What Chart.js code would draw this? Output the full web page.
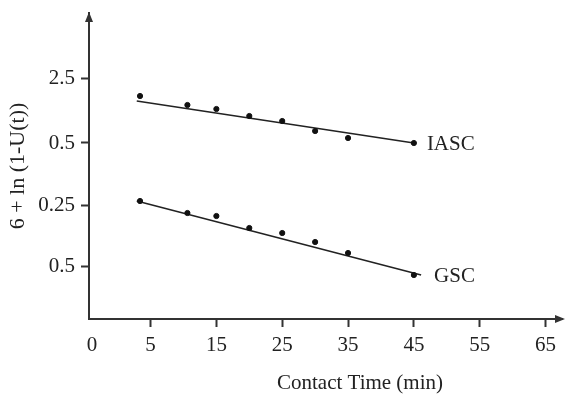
<!DOCTYPE html>
<html>
<head>
<meta charset="utf-8">
<script src="https://cdn.jsdelivr.net/npm/chart.js@4"></script>
<style>
  html, body { margin: 0; padding: 0; background: #fff; }
  #wrap { width: 566px; height: 398px; }
</style>
</head>
<body>
<div id="wrap"><canvas id="grafica"></canvas></div>
<script>
// datos
const timeMin = [3.4, 10.6, 15, 20, 25, 30, 35, 45];
const iascValues = [22.3, 21.4, 21.0, 20.3, 19.8, 18.8, 18.1, 17.6];
const gscValues = [11.8, 10.6, 10.3, 9.1, 8.6, 7.7, 6.6, 4.4];

// rectas de ajuste (extremos)
const iascFitX = [2.9, 45];
const iascFitY = [21.8, 17.6];
const gscFitX = [2.9, 46.1];
const gscFitY = [11.8, 4.4];

const seriesNames = ['IASC', 'GSC'];

const xTickValues = [-3.9, 5, 15, 25, 35, 45, 55, 65];
const xTickLabels = ['0', '5', '15', '25', '35', '45', '55', '65'];
const yTickValues = [5.3, 11.4, 17.6, 24.1];
const yTickLabels = ['0.5', '0.25', '0.5', '2.5'];

const FONT = "'Liberation Serif', 'Times New Roman', serif";
const INK = '#222';

const puntos = (xs, ys) => xs.map((x, i) => ({ x: x, y: ys[i] }));

// flechas de ejes, titulo X y nombres de series
const extras = {
  id: 'extras',
  afterDraw(chart) {
    const { ctx, chartArea: a } = chart;
    ctx.save();
    ctx.fillStyle = '#333';
    // flecha eje y
    ctx.beginPath();
    ctx.moveTo(a.left, a.top - 1);
    ctx.lineTo(a.left - 4, a.top + 9);
    ctx.lineTo(a.left + 4, a.top + 9);
    ctx.closePath();
    ctx.fill();
    // flecha eje x
    ctx.beginPath();
    ctx.moveTo(a.right + 3, a.bottom);
    ctx.lineTo(a.right - 7, a.bottom - 4);
    ctx.lineTo(a.right - 7, a.bottom + 4);
    ctx.closePath();
    ctx.fill();

    ctx.fillStyle = INK;
    ctx.font = '21px ' + FONT;
    ctx.textAlign = 'center';
    ctx.textBaseline = 'middle';
    ctx.fillText('Contact Time (min)', 360, 383);

    ctx.textAlign = 'left';
    chart.data.datasets.forEach((ds, i) => {
      if (!ds.nombre) return;
      const meta = chart.getDatasetMeta(i);
      const p = meta.data[meta.data.length - 1];
      ctx.fillText(ds.nombre, p.x + 13, p.y + 1);
    });
    ctx.restore();
  }
};

const ctx = document.getElementById('grafica').getContext('2d');

new Chart(ctx, {
  type: 'scatter',
  data: {
    datasets: [
      {
        label: seriesNames[0],
        data: puntos(timeMin, iascValues),
        backgroundColor: '#111',
        borderColor: '#111',
        pointRadius: 2.6,
        pointHoverRadius: 2.6
      },
      {
        label: seriesNames[1],
        data: puntos(timeMin, gscValues),
        backgroundColor: '#111',
        borderColor: '#111',
        pointRadius: 2.6,
        pointHoverRadius: 2.6
      },
      {
        label: seriesNames[0] + ' ajuste',
        nombre: seriesNames[0],
        data: puntos(iascFitX, iascFitY),
        showLine: true,
        borderColor: '#222',
        borderWidth: 1.6,
        pointRadius: 0
      },
      {
        label: seriesNames[1] + ' ajuste',
        nombre: seriesNames[1],
        data: puntos(gscFitX, gscFitY),
        showLine: true,
        borderColor: '#222',
        borderWidth: 1.6,
        pointRadius: 0
      }
    ]
  },
  options: {
    responsive: true,
    maintainAspectRatio: false,
    animation: false,
    layout: { padding: { top: 13, right: 4, left: 0, bottom: 0 } },
    plugins: {
      legend: { display: false },
      tooltip: { enabled: false }
    },
    scales: {
      x: {
        type: 'linear',
        min: -4.35,
        max: 67.5,
        afterBuildTicks: s => { s.ticks = xTickValues.map(v => ({ value: v })); },
        afterFit: s => { s.height = 79; },
        ticks: {
          autoSkip: false,
          maxRotation: 0,
          padding: 6,
          color: INK,
          font: { family: FONT, size: 21 },
          callback: (v, i) => xTickLabels[i]
        },
        grid: {
          drawOnChartArea: false,
          drawTicks: true,
          tickLength: 8,
          tickWidth: 2,
          tickColor: c => (c.tick && c.tick.value < 0) ? 'rgba(0,0,0,0)' : '#333'
        },
        border: { display: true, color: '#333', width: 2 }
      },
      y: {
        type: 'linear',
        min: 0,
        max: 30.6,
        afterBuildTicks: s => { s.ticks = yTickValues.map(v => ({ value: v })); },
        afterFit: s => { s.width = 89; s.paddingTop = 0; s.paddingBottom = 0; },
        ticks: {
          autoSkip: false,
          padding: 6,
          color: INK,
          font: { family: FONT, size: 21 },
          callback: (v, i) => yTickLabels[i]
        },
        grid: {
          drawOnChartArea: false,
          drawTicks: true,
          tickLength: 8,
          tickWidth: 2,
          tickColor: '#333'
        },
        border: { display: true, color: '#333', width: 2 },
        title: {
          display: true,
          text: '6 + ln (1-U(t))',
          color: INK,
          font: { family: FONT, size: 22 },
          padding: { top: 5, bottom: 0 }
        }
      }
    }
  },
  plugins: [extras]
});
</script>
</body>
</html>
